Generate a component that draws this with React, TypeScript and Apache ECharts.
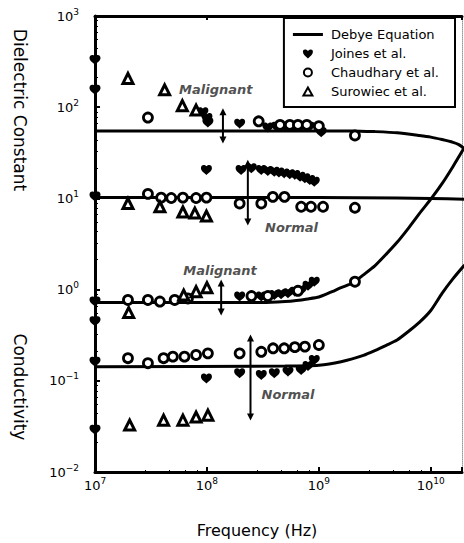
import React, { useEffect, useRef } from 'react';
import * as echarts from 'echarts';

const FONT = 'DejaVu Sans';

// ---- Debye equation curves: [frequency (Hz), value] ----
const debyePermMalignant = [[1e7, 55], [1e9, 55], [2e9, 55], [3.16e9, 54], [5e9, 52.5], [7.9e9, 49], [1e10, 47], [1.26e10, 44.2], [1.58e10, 41.2], [1.78e10, 38.9], [2e10, 35]];
const debyePermNormal = [[1e7, 10.2], [1e9, 10.2], [5e9, 10.1], [1e10, 10], [2e10, 9.8]];
const debyeCondMalignant = [[1e7, 0.72], [3.16e8, 0.72], [5e8, 0.74], [6.3e8, 0.76], [7.9e8, 0.79], [1e9, 0.83], [1.26e9, 0.93], [1.58e9, 1.05], [2e9, 1.18], [2.5e9, 1.45], [3.16e9, 1.82], [4e9, 2.45], [5e9, 3.3], [6.3e9, 4.7], [7.9e9, 6.8], [1e10, 9.8], [1.26e10, 14.5], [1.58e10, 22.4], [2e10, 36.3]];
const debyeCondNormal = [[1e7, 0.143], [5e8, 0.145], [1e9, 0.148], [1.58e9, 0.162], [2.5e9, 0.19], [3.16e9, 0.214], [4e9, 0.245], [5e9, 0.28], [6.3e9, 0.347], [7.9e9, 0.437], [1e10, 0.59], [1.26e10, 0.91], [1.58e10, 1.32], [2e10, 1.86]];

// ---- Joines et al. (filled) ----
const joinesPermMalignant = [[1e7, 330], [1e7, 155], [9.2e7, 88], [1e8, 76], [1.02e8, 68], [1.96e8, 66], [3.5e8, 60], [4.2e8, 61], [5e8, 62], [6e8, 62], [7e8, 62], [8.2e8, 61], [1.05e9, 53]];
const joinesPermNormal = [[1e7, 10.5], [9.9e7, 20.5], [2.02e8, 20.5], [2.49e8, 21.4], [3.06e8, 20.5], [3.5e8, 20], [4e8, 19.6], [4.4e8, 19.2], [4.9e8, 18.8], [5.5e8, 18.4], [6.1e8, 18.1], [6.8e8, 17.3], [7.5e8, 16.6], [8.3e8, 15.9], [9.1e8, 15.2]];
const joinesCondMalignant = [[1e7, 0.74], [1e7, 0.45], [1.96e8, 0.84], [3.06e8, 0.84], [4e8, 0.87], [4.6e8, 0.89], [5.3e8, 0.91], [6.1e8, 0.95], [6.95e8, 0.99], [8e8, 1.1], [9.1e8, 1.22]];
const joinesCondNormal = [[1e7, 0.162], [1e7, 0.029], [9.9e7, 0.106], [1.96e8, 0.121], [3.06e8, 0.116], [4e8, 0.121], [5.3e8, 0.126], [6.95e8, 0.131], [8e8, 0.145], [9.1e8, 0.169]];
// Joines ranges: [frequency, top, bottom]
const joinesRanges = [[1.39e8, 89, 43.6], [2.32e8, 24.3, 5.5], [1.34e8, 1.18, 0.568], [2.45e8, 0.294, 0.04]];

// ---- Chaudhary et al. (open circles) ----
const chaudPermMalignant = [[2.97e7, 77], [2.9e8, 70], [4.5e8, 64], [5.5e8, 64], [6.5e8, 64], [7.8e8, 64], [1e9, 62], [2.1e9, 49]];
const chaudPermNormal = [[2.97e7, 11.2], [3.9e7, 10.2], [4.8e7, 10.1], [6.1e7, 10.2], [8e7, 10.1], [9.9e7, 10.2], [1.96e8, 8.8], [3.06e8, 8.8], [3.88e8, 10.4], [4.93e8, 10.4], [6.95e8, 8.1], [8.5e8, 8.1], [1.09e9, 8.1], [2.1e9, 7.9]];
const chaudCondMalignant = [[1.97e7, 0.77], [2.97e7, 0.77], [3.8e7, 0.74], [5.15e7, 0.77], [6.76e7, 0.8], [2.5e8, 0.85], [3.5e8, 0.85], [6.5e8, 0.97], [2.1e9, 1.22]];
const chaudCondNormal = [[1.97e7, 0.177], [2.97e7, 0.156], [4.1e7, 0.177], [4.96e7, 0.184], [6.3e7, 0.184], [8e7, 0.192], [1.02e8, 0.2], [1.96e8, 0.2], [3.06e8, 0.208], [3.9e8, 0.227], [4.9e8, 0.227], [6.1e8, 0.234], [7.5e8, 0.237], [1e9, 0.247]];

// ---- Surowiec et al. (open triangles) ----
const surPermMalignant = [[1.97e7, 207], [4.19e7, 155], [6.03e7, 104], [8e7, 93]];
const surPermNormal = [[1.97e7, 8.8], [3.8e7, 8.1], [6.1e7, 7.1], [7.8e7, 6.9], [9.9e7, 6.4]];
const surCondMalignant = [[2e7, 0.56], [6.2e7, 0.87], [8e7, 0.95], [1e8, 1.05]];
const surCondNormal = [[2.04e7, 0.0327], [4.1e7, 0.037], [6.1e7, 0.037], [8e7, 0.04], [1.02e8, 0.042]];

// ---- annotations: [frequency, value, text] ----
const annotations = [[1.2e8, 155, 'Malignant'], [5.7e8, 4.85, 'Normal'], [1.31e8, 1.64, 'Malignant'], [5.3e8, 0.0716, 'Normal']];

const legendNames = ['Debye Equation', 'Joines et al.', 'Chaudhary et al.', 'Surowiec et al.'];

const X_MIN = 1e7;
const X_MAX = 1.9e10;
const Y_MIN = 1e-2;
const Y_MAX = 1e3;

const JOINES_SYMBOL = 'path://M0,4 C0,0 4,0 6,2 C8,0 12,0 12,4 C12,7 8,9 6,11 C4,9 0,7 0,4 Z';

// legend icons, padded to a 30x11 box so each glyph keeps its own size
const ICON_BOX = 'M0,0 M30,11 ';
const legendIcons = [
  'path://' + ICON_BOX + 'M0,4 L30,4 L30,7 L0,7 Z',
  'path://' + ICON_BOX + 'M10,4 C10,1 13,1 15,3 C17,1 20,1 20,4 C20,6.5 17,8.5 15,10.5 C13,8.5 10,6.5 10,4 Z',
  'path://' + ICON_BOX + 'M11,5.5 A4,4 0 1,1 19,5.5 A4,4 0 1,1 11,5.5 Z',
  'path://' + ICON_BOX + 'M15,1.5 L19.5,9.5 L10.5,9.5 Z',
];

function powLabel(v: number) {
  const l = Math.log10(v);
  const e = Math.round(l);
  if (Math.abs(l - e) > 1e-6) return '';
  const es = e < 0 ? '\u2212' + Math.abs(e) : String(e);
  return `{b|10}{s|${es}}`;
}

const labelRich = {
  b: { fontSize: 13, fontFamily: FONT, color: '#000', lineHeight: 18 },
  s: { fontSize: 9, fontFamily: FONT, color: '#000', verticalAlign: 'top', lineHeight: 9 },
};

export default function App() {
  const ref = useRef<HTMLDivElement>(null);
  useEffect(() => {
    if (!ref.current) return;
    const chart = echarts.init(ref.current, null, { renderer: 'svg' });

    const debyeSeries = [debyePermMalignant, debyePermNormal, debyeCondMalignant, debyeCondNormal].map((d) => ({
      type: 'line',
      name: 'Debye Equation',
      data: d,
      symbol: 'none',
      smooth: 0.2,
      lineStyle: { color: '#000', width: 3 },
      itemStyle: { color: '#000' },
      z: 2,
    }));

    const rangeSeries = joinesRanges.map((r) => ({
      type: 'line',
      name: 'range',
      data: [
        { value: [r[0], r[1]], symbol: 'triangle', symbolRotate: 0 },
        { value: [r[0], r[2]], symbol: 'triangle', symbolRotate: 180 },
      ],
      symbolSize: 7,
      showSymbol: true,
      lineStyle: { color: '#000', width: 2 },
      itemStyle: { color: '#000' },
      z: 3,
    }));

    const option: any = {
      animation: false,
      backgroundColor: '#fff',
      grid: { left: 95, top: 16, right: 2, bottom: 71, containLabel: false },
      xAxis: [
        {
          type: 'log',
          logBase: 10,
          min: X_MIN,
          max: X_MAX,
          position: 'bottom',
          axisLine: { show: true, lineStyle: { color: '#000', width: 3 } },
          axisTick: { show: true, inside: true, length: 5, lineStyle: { color: '#000', width: 2 } },
          minorTick: { show: true, splitNumber: 5, length: 2, lineStyle: { color: '#000', width: 1 } },
          splitLine: { show: false },
          axisLabel: { formatter: powLabel, rich: labelRich, margin: 4, color: '#000', showMaxLabel: false },
        },
        {
          type: 'log',
          logBase: 10,
          min: X_MIN,
          max: X_MAX,
          position: 'top',
          axisLine: { show: true, lineStyle: { color: '#000', width: 3 } },
          axisTick: { show: true, inside: true, length: 4, lineStyle: { color: '#000', width: 2 } },
          axisLabel: { show: false },
          splitLine: { show: false },
        },
      ],
      yAxis: [
        {
          type: 'log',
          logBase: 10,
          min: Y_MIN,
          max: Y_MAX,
          position: 'left',
          axisLine: { show: true, lineStyle: { color: '#000', width: 3 } },
          axisTick: { show: true, inside: true, length: 5, lineStyle: { color: '#000', width: 2 } },
          minorTick: { show: true, splitNumber: 8, length: 3, lineStyle: { color: '#000', width: 1 } },
          splitLine: { show: false },
          axisLabel: { formatter: powLabel, rich: labelRich, margin: 16, color: '#000' },
        },
        {
          type: 'log',
          logBase: 10,
          min: Y_MIN,
          max: Y_MAX,
          position: 'right',
          axisLine: { show: true, lineStyle: { color: '#999', width: 1, type: 'dotted' } },
          axisTick: { show: false },
          axisLabel: { show: false },
          splitLine: { show: false },
        },
      ],
      legend: {
        data: legendNames.map((n, i) => ({ name: n, icon: legendIcons[i] })),
        orient: 'vertical',
        right: 9,
        top: 18,
        itemWidth: 30,
        itemHeight: 11,
        itemGap: 6,
        padding: [10, 16, 9, 8],
        borderColor: '#000',
        borderWidth: 2,
        backgroundColor: '#fff',
        selectedMode: false,
        textStyle: { fontFamily: FONT, fontSize: 13, color: '#000', padding: [0, 0, 0, 3] },
        z: 10,
      },
      graphic: [
        {
          type: 'text',
          x: 20,
          y: 110,
          rotation: -Math.PI / 2,
          style: { text: 'Dielectric Constant', font: `17px "${FONT}"`, fill: '#000', align: 'center', verticalAlign: 'middle' },
        },
        {
          type: 'text',
          x: 20,
          y: 387,
          rotation: -Math.PI / 2,
          style: { text: 'Conductivity', font: `17px "${FONT}"`, fill: '#000', align: 'center', verticalAlign: 'middle' },
        },
        {
          type: 'text',
          x: 257,
          y: 530,
          style: { text: 'Frequency (Hz)', font: `16px "${FONT}"`, fill: '#000', align: 'center', verticalAlign: 'middle' },
        },
      ],
      series: [
        ...debyeSeries,
        ...rangeSeries,
        {
          type: 'scatter',
          name: 'Joines et al.',
          data: [...joinesPermMalignant, ...joinesPermNormal, ...joinesCondMalignant, ...joinesCondNormal],
          symbol: JOINES_SYMBOL,
          symbolSize: [11, 10],
          itemStyle: { color: '#000', opacity: 1 },
          z: 4,
        },
        {
          type: 'scatter',
          name: 'Chaudhary et al.',
          data: [...chaudPermMalignant, ...chaudPermNormal, ...chaudCondMalignant, ...chaudCondNormal],
          symbol: 'circle',
          symbolSize: 9,
          itemStyle: { color: '#fff', borderColor: '#000', borderWidth: 2.8, opacity: 1 },
          z: 5,
        },
        {
          type: 'scatter',
          name: 'Surowiec et al.',
          data: [...surPermMalignant, ...surPermNormal, ...surCondMalignant, ...surCondNormal],
          symbol: 'triangle',
          symbolSize: 10,
          itemStyle: { color: '#fff', borderColor: '#000', borderWidth: 3, opacity: 1 },
          z: 5,
        },
        {
          type: 'scatter',
          name: 'annotations',
          data: annotations,
          encode: { x: 0, y: 1 },
          symbolSize: 1,
          itemStyle: { color: 'rgba(0,0,0,0)' },
          silent: true,
          label: {
            show: true,
            position: 'inside',
            formatter: (p: any) => p.value[2],
            fontFamily: FONT,
            fontSize: 13,
            fontStyle: 'italic',
            fontWeight: 'bold',
            color: '#222',
          },
          labelLayout: { hideOverlap: false },
          z: 6,
        },
      ],
    };
    chart.setOption(option);
    return () => chart.dispose();
  }, []);

  return (
    <div style={{ position: 'fixed', left: 0, top: 0, width: 464, height: 543, overflow: 'hidden', background: '#fff' }}>
      <div ref={ref} style={{ width: 464, height: 543 }} />
    </div>
  );
}
